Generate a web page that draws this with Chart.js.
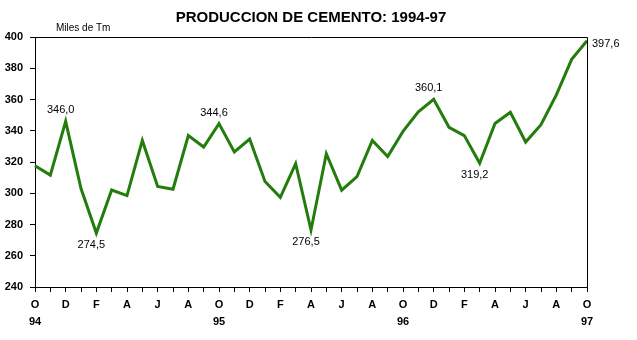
<!DOCTYPE html>
<html>
<head>
<meta charset="utf-8">
<title>Produccion de cemento 1994-97</title>
<script src="https://cdn.jsdelivr.net/npm/chart.js@4"></script>
<style>
  body { margin: 0; background: #ffffff; }
  canvas { display: block; }
</style>
</head>
<body>
<canvas id="myCanvas" width="637" height="340"></canvas>
<script>
// months from Oct 1994 to Oct 1997
const months = ['O','N','D','E','F','M','A','M','J','J','A','S',
                'O','N','D','E','F','M','A','M','J','J','A','S',
                'O','N','D','E','F','M','A','M','J','J','A','S','O'];
const years = ['94', '95', '96', '97'];
const produccion = [317.6, 311.6, 346.0, 303.0, 274.5, 302.1, 298.5, 333.8, 304.3, 302.6, 336.9, 329.6,
                    344.6, 326.4, 334.7, 307.5, 297.4, 318.9, 276.5, 325.3, 302.0, 310.7, 333.8, 323.5,
                    339.6, 352.1, 360.1, 342.2, 336.9, 319.2, 344.6, 351.8, 332.8, 343.9, 363.0, 385.7, 397.6];
const labeledPoints = [2, 4, 12, 18, 26, 29, 36];
const labelSides = ['above', 'below', 'above', 'below', 'above', 'below', 'right'];
const yTicks = [240, 260, 280, 300, 320, 340, 360, 380, 400];

document.addEventListener('DOMContentLoaded', function () {
    const canvas = document.getElementById('myCanvas');
    const ctx = canvas.getContext('2d');

    function formatValue(v) {
        return v.toFixed(1).replace('.', ',');
    }

    const decorations = {
        id: 'decorations',
        afterDraw: function (chart) {
            const c = chart.ctx;
            const area = chart.chartArea;
            const xs = chart.scales.x;
            const ys = chart.scales.y;
            c.save();

            // frame top and right
            c.strokeStyle = '#000000';
            c.lineWidth = 1;
            c.beginPath();
            c.moveTo(Math.round(area.left) + 0.5, Math.round(area.top) + 0.5);
            c.lineTo(Math.round(area.right) + 0.5, Math.round(area.top) + 0.5);
            c.lineTo(Math.round(area.right) + 0.5, Math.round(area.bottom) + 0.5);
            c.stroke();

            // title
            c.fillStyle = '#000000';
            c.font = 'bold 15px Arial, "Liberation Sans", sans-serif';
            c.textAlign = 'center';
            c.textBaseline = 'middle';
            c.fillText('PRODUCCION DE CEMENTO: 1994-97', 311, 18);

            // unit
            c.font = '10px Arial, "Liberation Sans", sans-serif';
            c.textAlign = 'left';
            c.fillText('Miles de Tm', 56, 28);

            // value labels
            c.font = '11px Arial, "Liberation Sans", sans-serif';
            labeledPoints.forEach(function (idx, i) {
                const px = xs.getPixelForValue(idx);
                const py = ys.getPixelForValue(produccion[idx]);
                const text = formatValue(produccion[idx]);
                if (labelSides[i] === 'above') {
                    c.textAlign = 'center';
                    c.fillText(text, px - 5, py - 11);
                } else if (labelSides[i] === 'below') {
                    c.textAlign = 'center';
                    c.fillText(text, px - 5, py + 12);
                } else {
                    c.textAlign = 'left';
                    c.fillText(text, px + 5, py + 3);
                }
            });
            c.restore();
        }
    };

    new Chart(ctx, {
        type: 'line',
        data: {
            labels: months,
            datasets: [{
                label: 'Produccion',
                data: produccion,
                borderColor: '#237c0c',
                borderWidth: 3,
                pointRadius: 0,
                tension: 0,
                fill: false
            }]
        },
        options: {
            responsive: false,
            animation: false,
            layout: { padding: { top: 37, right: 50, left: 0, bottom: 0 } },
            plugins: {
                legend: { display: false },
                tooltip: { enabled: false },
                title: { display: false }
            },
            scales: {
                x: {
                    offset: false,
                    afterFit: function (scale) { scale.height = 53; },
                    grid: {
                        drawOnChartArea: false,
                        drawTicks: true,
                        tickLength: 5,
                        color: '#000000'
                    },
                    border: { display: true, color: '#000000', width: 1 },
                    ticks: {
                        autoSkip: false,
                        maxRotation: 0,
                        minRotation: 0,
                        padding: 5,
                        color: '#000000',
                        font: { family: 'Arial, "Liberation Sans", sans-serif', size: 11, weight: 'bold', lineHeight: 1.5 },
                        callback: function (value, index) {
                            if (index % 2 !== 0) return '';
                            const m = this.getLabelForValue(value);
                            if (index % 12 === 0) return [m, years[index / 12]];
                            return m;
                        }
                    }
                },
                y: {
                    min: 240,
                    max: 400,
                    afterFit: function (scale) { scale.width = 35; },
                    afterBuildTicks: function (scale) {
                        scale.ticks = yTicks.map(function (v) { return { value: v }; });
                    },
                    grid: {
                        drawOnChartArea: false,
                        drawTicks: true,
                        tickLength: 5,
                        color: '#000000'
                    },
                    border: { display: true, color: '#000000', width: 1 },
                    ticks: {
                        padding: 7,
                        color: '#000000',
                        font: { family: 'Arial, "Liberation Sans", sans-serif', size: 11, weight: 'bold' }
                    }
                }
            }
        },
        plugins: [decorations]
    });
});
</script>
</body>
</html>
